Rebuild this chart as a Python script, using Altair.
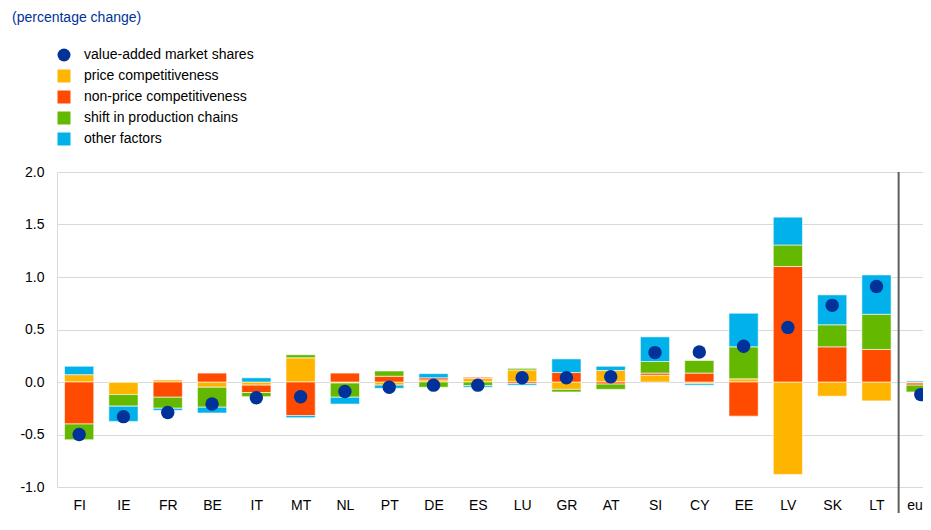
import altair as alt
import pandas as pd

categories = ["FI", "IE", "FR", "BE", "IT", "MT", "NL", "PT", "DE", "ES",
              "LU", "GR", "AT", "SI", "CY", "EE", "LV", "SK", "LT", "euro area"]

price = [0.07, -0.12, 0.02, -0.05, -0.03, 0.23, -0.01, -0.03, 0.02, 0.035,
         0.115, -0.07, 0.11, 0.065, -0.015, 0.03, -0.88, -0.135, -0.18, -0.01]
nonprice = [-0.40, 0.0, -0.145, 0.085, -0.07, -0.32, 0.085, 0.055, 0.02, 0.01,
            -0.015, 0.09, -0.02, 0.02, 0.085, -0.325, 1.10, 0.335, 0.31, -0.02]
shift = [-0.15, -0.11, -0.105, -0.19, -0.04, 0.03, -0.135, 0.05, -0.05, -0.035,
         0.015, -0.025, -0.05, 0.11, 0.12, 0.305, 0.205, 0.21, 0.335, -0.065]
other = [0.08, -0.145, -0.02, -0.055, 0.04, -0.02, -0.065, -0.03, 0.04, -0.015,
         -0.015, 0.13, 0.04, 0.235, -0.015, 0.32, 0.265, 0.285, 0.375, 0.01]
market = [-0.50, -0.33, -0.29, -0.21, -0.15, -0.14, -0.09, -0.05, -0.03, -0.03,
          0.04, 0.04, 0.05, 0.28, 0.285, 0.34, 0.52, 0.73, 0.91, -0.12]

series_names = ["value-added market shares", "price competitiveness",
                "non-price competitiveness", "shift in production chains",
                "other factors"]
colors = ["#003299", "#FFB400", "#FF4B00", "#65B800", "#00B1EA"]
y_ticks = [-1.0, -0.5, 0.0, 0.5, 1.0, 1.5, 2.0]

FONT = "Liberation Sans"
HALF_BAR = 0.33           # half bar width in category steps
X_DOMAIN = [-0.5, 19.05]  # the euro-area column runs off the right edge, as in the original

rows = []
for i, c in enumerate(categories):
    for k, vals in enumerate([price, nonprice, shift, other]):
        rows.append({"idx": i, "cat": c, "series": series_names[k + 1],
                     "order": k, "value": vals[i]})
bars_df = pd.DataFrame(rows)
dots_df = pd.DataFrame({"idx": list(range(len(categories))), "cat": categories,
                        "series": series_names[0], "value": market})
sep_df = pd.DataFrame({"pos": [len(categories) - 1.5]})

x_scale = alt.Scale(domain=X_DOMAIN, nice=False, zero=False)
y_scale = alt.Scale(domain=[-1, 2], nice=False, zero=False)
color_scale = alt.Scale(domain=series_names, range=colors)

label_array = "[" + ",".join("'" + c + "'" for c in categories) + "]"
x_axis = alt.Axis(title=None, grid=False, domain=False, ticks=False, labelAngle=0,
                  values=list(range(len(categories))), labelFlush=False,
                  labelOverlap=False, labelPadding=11, labelFontSize=14, labelFont=FONT,
                  labelColor="#000000", labelAlign="center",
                  labelExpr="split(" + label_array + "[datum.value], ' ')",
                  labelLineHeight=16, labelBaseline="top")
y_axis = alt.Axis(title=None, values=y_ticks, grid=True, gridColor="#d9d9d9",
                  domain=True, domainColor="#d9d9d9", ticks=False, labelPadding=13,
                  labelFontSize=14, labelFont=FONT, labelColor="#000000",
                  labelExpr="replace(format(datum.value, '.1f'), '\u2212', '-')")

legend = alt.Legend(orient="none", legendX=0, legendY=-124, title=None,
                    symbolSize=169, symbolStrokeWidth=0, labelFontSize=14,
                    labelFont=FONT, labelColor="#000000", labelOffset=13,
                    labelLimit=400, rowPadding=7, direction="vertical",
                    symbolType=alt.ExprRef(
                        "datum.label == 'value-added market shares' ? 'circle' : 'square'"))

bars = alt.Chart(bars_df).transform_stack(
    stack="value", groupby=["idx"], sort=[alt.SortField("order", order="ascending")],
    offset="zero", as_=["v0", "v1"]
).transform_calculate(
    xl="datum.idx - %f" % HALF_BAR, xr="datum.idx + %f" % HALF_BAR
).mark_bar(stroke="white", strokeWidth=0.6, clip=True).encode(
    x=alt.X("xl:Q", scale=x_scale, axis=x_axis),
    x2="xr:Q",
    y=alt.Y("v0:Q", scale=y_scale, axis=y_axis),
    y2="v1:Q",
    color=alt.Color("series:N", scale=color_scale, legend=legend),
)

sep = alt.Chart(sep_df).mark_rule(color="#5f5f5f", strokeWidth=2).encode(
    x=alt.X("pos:Q", scale=x_scale),
    y=alt.value(0),
    y2=alt.value(400),
)

dots = alt.Chart(dots_df).mark_point(filled=True, size=180, opacity=1).encode(
    x=alt.X("idx:Q", scale=x_scale),
    y=alt.Y("value:Q", scale=y_scale, stack=None),
    color=alt.Color("series:N", scale=color_scale, legend=legend),
)

chart = alt.layer(bars, sep, dots).properties(
    width=866, height=315,
    autosize=alt.AutoSizeParams(type="none"),
    padding={"left": 49, "top": 164, "right": 0, "bottom": 26},
    title=alt.TitleParams("(percentage change)", anchor="start", frame="group",
                          fontSize=14, fontWeight="normal", color="#003299",
                          font=FONT, dx=-45, dy=-23, baseline="top", offset=0),
).configure_view(stroke=None)

chart.save("out.html", embed_options={"renderer": "svg", "actions": False})
